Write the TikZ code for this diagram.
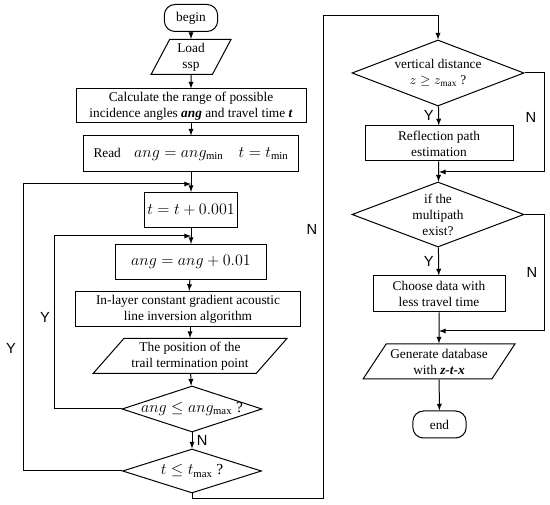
\documentclass[tikz,border=0pt]{standalone}
\usepackage{fontspec}
\setmainfont{Liberation Serif}
\newfontfamily\ynfont{Liberation Sans}
\usepackage{tikz}
\usetikzlibrary{shapes.geometric}
\tikzset{>=latex}
\tikzset{
  proc/.style={draw, rectangle, align=center, inner sep=1pt, minimum height=26.25pt},
  term/.style={draw, rectangle, rounded corners=8pt, minimum width=40pt, minimum height=20.25pt, inner sep=1pt},
  io/.style={draw, trapezium, trapezium stretches=true, align=center, inner sep=0pt, minimum height=26.25pt},
  decision/.style={draw, diamond, inner sep=0pt},
  bigmath/.style={font=\fontsize{11.5}{13}\selectfont},
  yn/.style={font=\ynfont\fontsize{11}{13}\selectfont}
}

\begin{document}
\begin{tikzpicture}[x=0.75pt, y=-0.75pt, line width=0.75pt]
    \useasboundingbox (0,0) rectangle (550,505);
    % left column
    \node[term] (begin) at (191,18) {begin};
    \node[io, minimum width=60pt, trapezium left angle=67, trapezium right angle=113] (load) at (191,57) {Load\\ssp};
    \node[proc, minimum width=172.5pt, minimum height=25.5pt] (calc) at (191,106) {Calculate the range of possible\\incidence angles \textbf{\textit{ang}} and travel time \textbf{\textit{t}}};
    \node[proc, minimum width=161.25pt, minimum height=27pt] (read) at (191,154) {Read\quad {\fontsize{11.5}{13}\selectfont$ang = ang_{\min}$\quad $t = t_{\min}$}};
    \node[proc, bigmath, minimum width=69.75pt] (tinc) at (191,210) {$t = t + 0.001$};
    \node[proc, bigmath, minimum width=113.25pt] (anginc) at (191,262) {$ang = ang + 0.01$};
    \node[proc, minimum width=168.75pt] (inlayer) at (188,309) {In-layer constant gradient acoustic\\line inversion algorithm};
    \node[io, minimum width=145.5pt, trapezium left angle=46, trapezium right angle=134] (pos) at (190,356) {The position of the\\trail termination point};
    \node[decision, minimum width=105pt, minimum height=34.5pt, label={[bigmath]center:$ang \le ang_{\max}$ ?}] (angdec) at (192,409) {};
    \node[decision, minimum width=104.25pt, minimum height=33pt, label={[bigmath]center:$t \le t_{\max}$ ?}] (tdec) at (192,471) {};
    \coordinate (j1) at (191,184);
    \coordinate (j2) at (191,236);
    % right column
    \node[decision, minimum width=129pt, minimum height=49.5pt, label={[align=center]center:vertical distance\\$z \ge z_{\max}$ ?}] (vdist) at (438,73) {};
    \node[proc, minimum width=111pt] (refl) at (439,143.5) {Reflection path\\estimation};
    \node[decision, minimum width=129pt, minimum height=48.75pt, label={[align=center]center:if the\\multipath\\exist?}] (multi) at (438,214.5) {};
    \node[proc, minimum width=99pt, minimum height=27pt] (choose) at (439,294) {Choose data with\\less travel time};
    \node[io, minimum width=114pt, trapezium left angle=50, trapezium right angle=130] (gen) at (439,361.5) {Generate database\\with \textbf{\textit{z-t-x}}};
    \node[term] (end) at (439.5,424.5) {end};
    \coordinate (j3) at (439,172);
    \coordinate (j4) at (439,331);
    \coordinate (c1) at (323,499);
    \coordinate (c2) at (323,16);
    \coordinate (r1) at (544,172);
    \coordinate (r2) at (544,331);

    % main flow
    \draw[->] (begin) -- (load);
    \draw[->] (load) -- (calc);
    \draw[->] (calc) -- (read);
    \draw[->] (read) -- (tinc);
    \draw[->] (tinc) -- (anginc);
    \draw[->] (anginc) -- (inlayer);
    \draw[->] (inlayer.south -| pos.north) -- (pos.north);
    \draw[->] (pos) -- (angdec);
    \draw[->] (angdec) -- node[right, yn]{N} (tdec);
    % loops
    \draw[->] (angdec.west) -- (54,409) |- (j2);
    \node[yn] (yin) at (45,317) {Y};
    \draw[->] (tdec.west) -- (23,471) |- (j1);
    \node[yn] (yout) at (11,348) {Y};
    \draw[->] (tdec.south) |- (c1) -- (c2) -| (vdist.north);
    \node[yn] (nmid) at (312,229) {N};
    % right flow
    \draw[->] (vdist) -- node[left, yn]{Y} (refl);
    \draw[->] (refl) -- (multi);
    \draw[->] (vdist.east) -| (r1) -- (j3);
    \node[yn] (nvd) at (531,117) {N};
    \draw[->] (multi) -- node[left, yn]{Y} (choose);
    \draw[->] (choose) -- (gen);
    \draw[->] (multi.east) -| (r2) -- (j4);
    \node[yn] (nmp) at (532,272) {N};
    \draw[->] (gen) -- (end);
\end{tikzpicture}
\end{document}
